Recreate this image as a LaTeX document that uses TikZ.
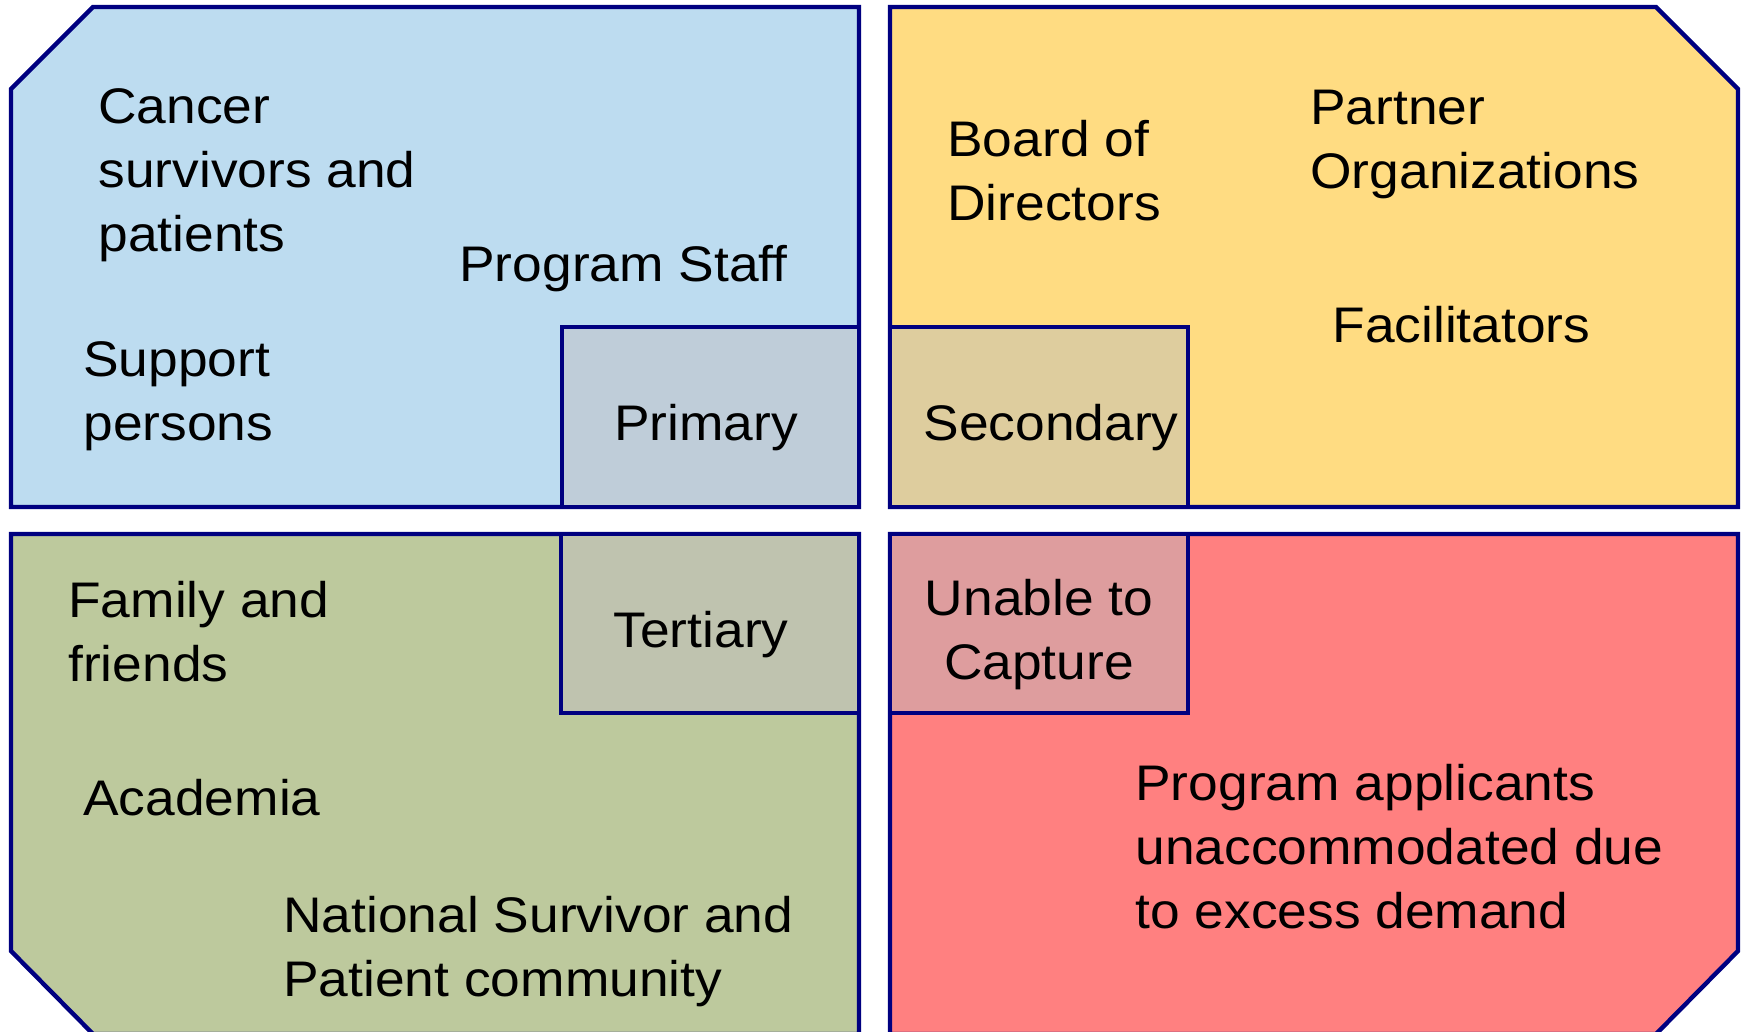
\documentclass[tikz,border=0pt]{standalone}
\usepackage{fontspec}
\setmainfont{Liberation Sans}[FakeStretch=1.067]
\usepackage{xcolor}
\usepackage{tikz}

\definecolor{navyline}{RGB}{0,0,128}
\definecolor{primpanel}{RGB}{189,220,240}
\definecolor{primbox}{RGB}{191,205,217}
\definecolor{secpanel}{RGB}{255,220,130}
\definecolor{secbox}{RGB}{222,205,158}
\definecolor{terpanel}{RGB}{189,201,157}
\definecolor{terbox}{RGB}{191,195,175}
\definecolor{uncpanel}{RGB}{255,128,128}
\definecolor{uncbox}{RGB}{222,157,158}

\begin{document}
\begin{tikzpicture}[x=0.5pt,y=-0.5pt,
    panel/.style={draw=navyline,line width=2.2pt,line join=miter},
    who/.style={inner sep=0pt,anchor=north west,align=left,font=\fontsize{25}{32}\selectfont},
    tier/.style={inner sep=0pt,anchor=base,align=center,font=\fontsize{25}{32}\selectfont}]
  \useasboundingbox (0,0) rectangle (1746,1032);
    % four quadrants, outer corners cut off
    \filldraw[panel,fill=primpanel] (11,89) -- (93,7) -- (859,7) -- (859,507) -- (11,507) -- cycle;
    \filldraw[panel,fill=secpanel] (890,7) -- (1656,7) -- (1738,89) -- (1738,507) -- (890,507) -- cycle;
    \filldraw[panel,fill=terpanel] (11,534) -- (859,534) -- (859,1034) -- (93,1034) -- (11,951) -- cycle;
    \filldraw[panel,fill=uncpanel] (890,534) -- (1738,534) -- (1738,951) -- (1656,1034) -- (890,1034) -- cycle;
    % tier boxes in the inner corners
    \filldraw[panel,fill=primbox] (562,327) rectangle (859,507);
    \filldraw[panel,fill=secbox] (890,327) rectangle (1188,507);
    \filldraw[panel,fill=terbox] (561,534) rectangle (859,713);
    \filldraw[panel,fill=uncbox] (890,534) rectangle (1188,713);
    % primary
    \node[who] (survivors) at (98,88) {Cancer\\survivors and\\patients};
    \node[who] (staff) at (459,245) {Program Staff};
    \node[who] (support) at (83,341) {Support\\persons};
    \node[tier] (primary) at (706,440) {Primary};
    % secondary
    \node[who] (board) at (947,120) {Board of\\Directors};
    \node[who] (partners) at (1310,90) {Partner\\Organizations};
    \node[who] (facil) at (1332,306) {Facilitators};
    \node[tier] (secondary) at (1051,440) {Secondary};
    % tertiary
    \node[who] (family) at (68,581) {Family and\\friends};
    \node[who] (academia) at (83,779) {Academia};
    \node[who] (national) at (283,896) {National Survivor and\\Patient community};
    \node[tier] (tertiary) at (701,647) {Tertiary};
    % not captured
    \node[tier,anchor=north] (unable) at (1039,579) {Unable to\\Capture};
    \node[who] (applicants) at (1135,764) {Program applicants\\unaccommodated due\\to excess demand};
\end{tikzpicture}
\end{document}
